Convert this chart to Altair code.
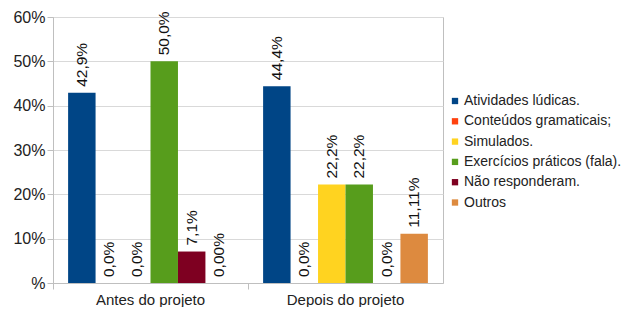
import altair as alt
import pandas as pd

categorias = ["Antes do projeto", "Depois do projeto"]
series = ["Atividades lúdicas.", "Conteúdos gramaticais;", "Simulados.",
          "Exercícios práticos (fala).", "Não responderam.", "Outros"]
antes = [42.9, 0.0, 0.0, 50.0, 7.1, 0.0]
depois = [44.4, 0.0, 22.2, 22.2, 0.0, 11.11]
rotulos_antes = ["42,9%", "0,0%", "0,0%", "50,0%", "7,1%", "0,00%"]
rotulos_depois = ["44,4%", "0,0%", "22,2%", "22,2%", "0,0%", "11,11%"]
cores = ["#004586", "#ff420e", "#ffd320", "#579d1c", "#7e0021", "#dd8a3f"]

rows = []
for cat, vals, labs in [(categorias[0], antes, rotulos_antes), (categorias[1], depois, rotulos_depois)]:
    for s, v, l in zip(series, vals, labs):
        rows.append({"Categoria": cat, "Série": s, "Valor": v, "Rótulo": l})
df = pd.DataFrame(rows)

x = alt.X("Categoria:N", sort=categorias, title=None,
          scale=alt.Scale(paddingInner=0, paddingOuter=0),
          axis=alt.Axis(labelAngle=0, labelFontSize=15, labelColor="#222222",
                        labelFont="Liberation Sans", labelPadding=3,
                        domainColor="#bfbfbf", tickColor="#bfbfbf", tickSize=6,
                        bandPosition=0, ticks=True))
xoff = alt.XOffset("Série:N", sort=series,
                   scale=alt.Scale(paddingInner=0, paddingOuter=0.55))
y = alt.Y("Valor:Q", title=None,
          scale=alt.Scale(domain=[0, 60], nice=False),
          axis=alt.Axis(values=[0, 10, 20, 30, 40, 50, 60],
                        labelExpr="datum.value == 0 ? '%' : datum.value + '%'",
                        labelFontSize=16, labelColor="#222222", labelFont="Liberation Sans",
                        gridColor="#d9d9d9", domainColor="#bfbfbf", tickColor="#bfbfbf",
                        tickSize=6, labelPadding=2))

bars = alt.Chart(df).mark_bar().encode(
    x=x, xOffset=xoff, y=y,
    color=alt.Color("Série:N", sort=series,
                    scale=alt.Scale(domain=series, range=cores),
                    legend=alt.Legend(title=None, orient="none", legendX=395, legendY=77,
                                      symbolType="square", symbolSize=40,
                                      symbolStrokeWidth=0,
                                      labelFontSize=14, labelFont="Liberation Sans",
                                      labelColor="#222222", rowPadding=6.3,
                                      labelOffset=2)),
)

labels = alt.Chart(df).mark_text(angle=270, align="left", baseline="middle",
                                 dx=6, fontSize=15.5, font="Liberation Sans",
                                 color="#111111").encode(
    x=x, xOffset=xoff, y=y, text="Rótulo:N")

chart = (bars + labels).properties(
    width=390, height=266,
    autosize=alt.AutoSizeParams(type="none"),
    padding={"left": 45, "top": 9, "right": 185, "bottom": 24},
).configure_view(stroke="#bfbfbf")

chart.save("out.html", embed_options={"renderer": "svg", "actions": False})
